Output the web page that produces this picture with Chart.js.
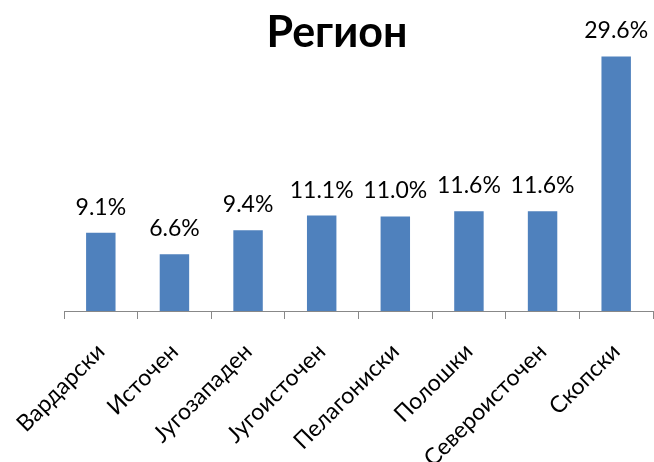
<!DOCTYPE html>
<html>
<head>
<meta charset="utf-8">
<script src="https://cdn.jsdelivr.net/npm/chart.js@4/dist/chart.umd.min.js"></script>
<style>
  html, body { margin: 0; padding: 0; background: #fff; }
  #wrap { width: 654px; height: 462px; }
</style>
</head>
<body>
<div id="wrap"><canvas id="chart"></canvas></div>
<script>
// region shares (%)
const regions = ["Вардарски", "Источен", "Југозападен", "Југоисточен", "Пелагониски", "Полошки", "Североисточен", "Скопски"];
const shares = [9.1, 6.6, 9.4, 11.1, 11.0, 11.6, 11.6, 29.6];
const chartTitle = "Регион";

const FONT = "Lato, 'Open Sans', sans-serif";

// value labels above each bar + the title
const labelPlugin = {
  id: "labels",
  afterDatasetsDraw(chart) {
    const ctx = chart.ctx;
    const meta = chart.getDatasetMeta(0);
    ctx.save();
    ctx.fillStyle = "#000";
    ctx.font = "23px " + FONT;
    ctx.textAlign = "center";
    ctx.textBaseline = "alphabetic";
    meta.data.forEach((bar, i) => {
      ctx.fillText(shares[i].toFixed(1) + "%", bar.x, bar.y - 18);
    });
    ctx.font = "bold 43px " + FONT;
    ctx.fillText(chartTitle, 337, 47);
    ctx.restore();
  }
};

new Chart(document.getElementById("chart"), {
  type: "bar",
  data: {
    labels: regions,
    datasets: [
      {
        data: shares,
        backgroundColor: "#4F81BD",
        barPercentage: 0.4,
        categoryPercentage: 1.0,
      },
    ],
  },
  options: {
    responsive: true,
    maintainAspectRatio: false,
    animation: false,
    layout: { padding: { left: 64, right: 1, top: 10, bottom: 0 } },
    plugins: {
      legend: { display: false },
      tooltip: { enabled: false },
    },
    scales: {
      y: {
        display: false,
        min: 0,
        max: 35,
      },
      x: {
        afterFit(scale) {
          scale.height = 151; // let long labels run off the bottom edge
          scale.paddingLeft = 0;
          scale.paddingRight = 0;
        },
        grid: {
          display: true,
          drawOnChartArea: false,
          offset: true,
          tickLength: 8,
          color: "#888",
        },
        border: { color: "#888", width: 1 },
        ticks: {
          color: "#000",
          font: { size: 23, family: FONT },
          minRotation: 45,
          maxRotation: 45,
          padding: 19,
        },
      },
    },
  },
  plugins: [labelPlugin],
});
</script>
</body>
</html>
